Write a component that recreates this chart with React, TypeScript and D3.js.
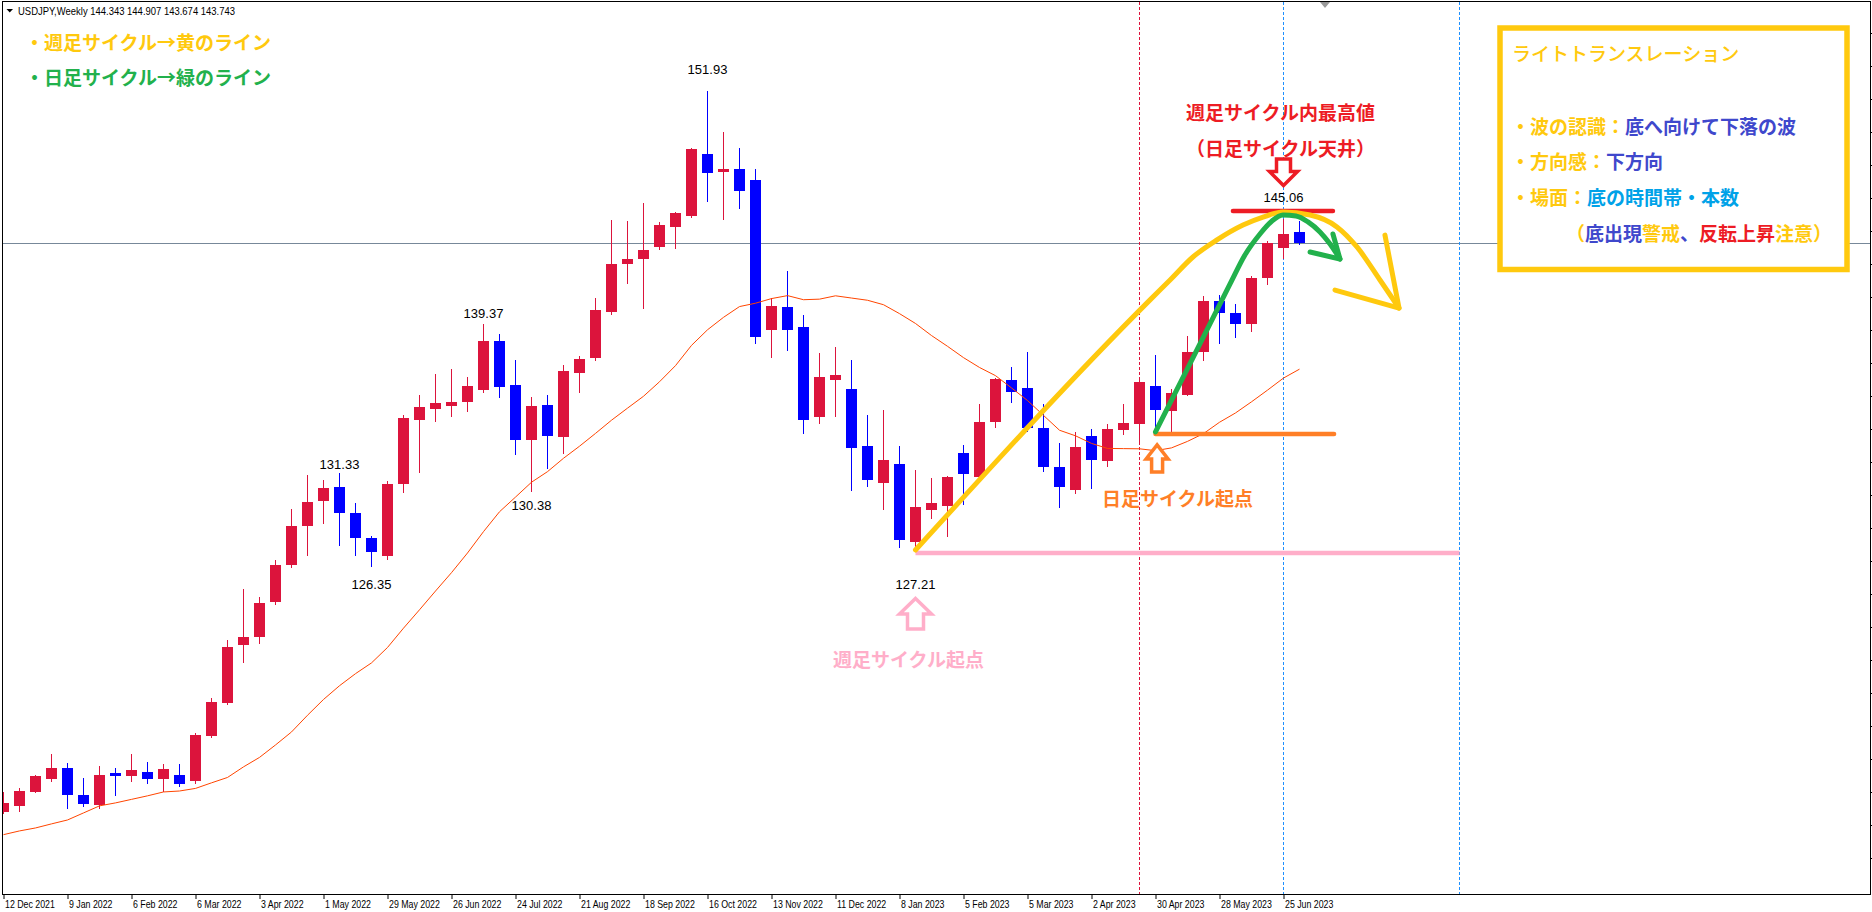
import React from "react";
import * as d3 from "d3";

const W = 1872;
const H = 912;

// Weekly USDJPY candles, bar 0 = week of 12 Dec 2021, bar 81 = week of 2 Jul 2023
const opens = [
  113.10, 113.44, 114.20, 114.90, 115.47, 114.02, 113.50, 115.20, 115.04, 115.26,
  114.88, 115.10, 114.77, 117.20, 118.97, 122.10, 122.55, 124.40, 126.40, 128.50,
  129.85, 130.60, 129.20, 127.85, 126.89, 130.78, 134.21, 134.82, 134.98, 135.20,
  135.85, 138.47, 136.10, 133.15, 135.02, 133.31, 136.76, 137.55, 140.03, 142.60,
  142.90, 143.55, 144.62, 145.21, 148.54, 147.58, 147.75, 147.14, 139.08, 140.30,
  139.22, 134.39, 136.38, 135.88, 132.81, 130.84, 131.84, 127.66, 129.39, 129.60,
  132.43, 131.16, 134.12, 136.37, 135.94, 133.77, 131.68, 130.44, 133.35, 132.02,
  133.69, 134.00, 136.04, 134.71, 135.58, 137.89, 140.60, 139.95, 139.40, 141.84,
  143.45, 144.343,
];
const highs = [
  114.20, 114.40, 115.10, 116.22, 115.74, 114.93, 115.58, 115.47, 116.22, 115.80,
  115.69, 115.69, 117.36, 119.24, 122.37, 125.10, 124.68, 126.68, 129.40, 131.25,
  131.00, 131.33, 129.75, 127.95, 130.93, 134.48, 135.56, 136.69, 136.96, 136.53,
  139.37, 138.85, 137.44, 135.45, 135.56, 137.17, 137.66, 140.78, 144.98, 144.93,
  145.90, 144.88, 145.41, 148.88, 151.93, 149.72, 148.86, 147.74, 140.77, 142.25,
  139.87, 137.84, 138.14, 137.44, 134.48, 134.75, 132.81, 131.52, 131.09, 131.20,
  132.87, 135.08, 136.47, 137.07, 137.88, 135.08, 132.97, 133.57, 133.73, 134.00,
  135.08, 136.55, 137.71, 135.90, 138.75, 140.90, 140.93, 140.46, 141.95, 143.85,
  145.06, 144.907,
];
const lows = [
  113.02, 113.17, 114.18, 114.79, 113.34, 113.43, 113.30, 114.04, 114.79, 114.67,
  114.24, 114.50, 114.67, 117.14, 118.90, 121.20, 122.20, 124.30, 126.30, 126.95,
  128.65, 127.50, 126.95, 126.35, 126.74, 130.34, 131.41, 134.16, 134.43, 134.70,
  135.72, 135.47, 132.40, 130.38, 131.65, 132.45, 135.74, 137.44, 139.90, 141.57,
  140.26, 143.40, 143.49, 145.16, 146.01, 145.04, 145.65, 138.38, 137.62, 137.98,
  133.53, 134.07, 134.45, 130.46, 130.67, 129.42, 127.36, 127.21, 128.95, 127.98,
  129.69, 130.95, 133.85, 135.20, 133.60, 131.48, 129.54, 130.30, 130.54, 131.75,
  133.47, 132.92, 133.58, 133.64, 135.54, 137.44, 138.34, 138.70, 139.00, 141.55,
  142.92, 143.674,
];
const closes = [
  113.59, 114.24, 115.04, 115.47, 114.04, 113.55, 115.10, 115.06, 115.36, 114.88,
  115.42, 114.61, 117.25, 119.02, 121.99, 122.50, 124.35, 126.40, 128.50, 129.80,
  130.55, 129.20, 127.85, 127.10, 130.77, 134.34, 134.91, 135.13, 135.18, 136.04,
  138.47, 136.01, 133.15, 134.97, 133.37, 136.85, 137.50, 140.14, 142.60, 142.90,
  143.35, 144.71, 145.36, 148.79, 147.53, 147.75, 146.55, 138.70, 140.35, 139.08,
  134.23, 136.53, 136.64, 132.72, 130.99, 132.06, 127.77, 129.53, 129.75, 131.14,
  131.30, 134.11, 136.42, 135.74, 133.80, 131.70, 130.62, 132.76, 132.07, 133.73,
  134.05, 136.26, 134.77, 135.67, 137.88, 140.60, 139.95, 139.40, 141.84, 143.73,
  144.23, 143.743,
];
// 20-week moving average
const ma20 = [
  111.88, 112.08, 112.24, 112.46, 112.67, 113.05, 113.43, 113.59, 113.78, 113.97,
  114.18, 114.23, 114.37, 114.67, 114.96, 115.53, 116.04, 116.71, 117.41, 118.31,
  119.16, 119.90, 120.55, 121.13, 121.96, 123.00, 123.99, 125.00, 125.99, 127.05,
  128.20, 129.27, 130.06, 130.86, 131.43, 132.15, 132.80, 133.49, 134.20, 134.85,
  135.49, 136.27, 137.14, 138.23, 139.07, 139.74, 140.32, 140.50, 140.75, 140.91,
  140.69, 140.72, 140.90, 140.78, 140.66, 140.42, 139.94, 139.41, 138.76, 138.18,
  137.57, 137.04, 136.60, 135.94, 135.26, 134.46, 133.66, 133.36, 132.95, 132.68,
  132.67, 132.66, 132.56, 132.71, 133.06, 133.48, 134.09, 134.59, 135.19, 135.82,
  136.47, 136.95,
];

const tickBars = [0, 4, 8, 12, 16, 20, 24, 28, 32, 36, 40, 44, 48, 52, 56, 60, 64, 68, 72, 76, 80];
const tickLabels = [
  "12 Dec 2021", "9 Jan 2022", "6 Feb 2022", "6 Mar 2022", "3 Apr 2022", "1 May 2022",
  "29 May 2022", "26 Jun 2022", "24 Jul 2022", "21 Aug 2022", "18 Sep 2022", "16 Oct 2022",
  "13 Nov 2022", "11 Dec 2022", "8 Jan 2023", "5 Feb 2023", "5 Mar 2023", "2 Apr 2023",
  "30 Apr 2023", "28 May 2023", "25 Jun 2023",
];
const priceTicks = [
  155.05, 153.28, 151.5, 149.72, 147.95, 146.17, 144.39, 142.61, 140.84, 139.06, 137.28,
  135.51, 133.73, 131.95, 130.17, 128.4, 126.62, 124.84, 123.07, 121.29, 119.51, 117.74,
  115.96, 114.18, 112.41, 110.63,
];

// swing high / low labels
const swingBars = [21, 23, 30, 33, 44, 57, 80];
const swingValues = [131.33, 126.35, 139.37, 130.38, 151.93, 127.21, 145.06];
const swingIsHigh = [true, false, true, false, true, false, true];
const swingOffset = [-9, 19, -11, 14, -22, 34, -21];

const currentPrice = 143.743;
const header = "USDJPY,Weekly  144.343 144.907 143.674 143.743";
const dividerBars = [71, 80, 91];
const dividerColors = ["#DC143C", "#1E90FF", "#1E90FF"];

// hand-drawn annotation strokes, as [bar, price]
const yellowCurve: [number, number][] = [
  [57.0, 127.21], [71.66, 140.68], [72.91, 141.75], [74.34, 142.99], [75.84, 143.91],
  [77.47, 144.71], [78.72, 145.14], [79.97, 145.41], [81.66, 145.25], [83.34, 144.61],
  [84.59, 143.53], [86.03, 141.75], [87.22, 140.24],
];
const yellowHead: [number, number][] = [[86.34, 144.17], [87.22, 140.24], [83.22, 141.21]];
const greenCurve: [number, number][] = [
  [72.0, 133.57], [74.33, 137.55], [76.66, 141.54], [77.59, 143.1], [78.53, 144.23],
  [79.28, 144.93], [79.97, 145.25], [80.78, 145.2], [81.53, 144.88], [82.28, 144.34],
  [82.91, 143.69], [83.53, 142.88],
];
const greenHead: [number, number][] = [[81.66, 143.26], [83.53, 142.88], [83.09, 144.23]];

const CJK = "'Noto Sans CJK JP', 'Noto Sans CJK SC', sans-serif";
const SANS = "'Liberation Sans', Arial, sans-serif";

const YEL = "#FFC90E";
const GRN = "#22B14C";
const ORG = "#FF7F27";
const PNK = "#FFAEC9";
const RED = "#ED1C24";
const IND = "#3F48CC";
const TUR = "#00A2E8";

function hollowArrow(tx: number, ty: number, dir: number, headHalf: number, headH: number, shaftHalf: number, len: number) {
  const b = ty + dir * headH;
  const e = ty + dir * len;
  return `M${tx},${ty} L${tx + headHalf},${b} L${tx + shaftHalf},${b} L${tx + shaftHalf},${e} L${tx - shaftHalf},${e} L${tx - shaftHalf},${b} L${tx - headHalf},${b} Z`;
}

export default function App() {
  const x = d3.scaleLinear().domain([0, 81]).range([3.5, 3.5 + 16 * 81]);
  const y = d3.scaleLinear().domain([127.21, 151.93]).range([550, 91]);

  const maLine = d3
    .line<number>()
    .x((_, i) => x(i))
    .y((d) => y(d))(ma20) as string;

  const annLine = d3
    .line<[number, number]>()
    .x((d) => x(d[0]))
    .y((d) => y(d[1]))
    .curve(d3.curveMonotoneX);
  const straight = d3
    .line<[number, number]>()
    .x((d) => x(d[0]))
    .y((d) => y(d[1]));

  const priceY = Math.round(y(currentPrice)) + 0.5;

  const boxLines: { x: number; cy: number; parts: [string, string][] }[] = [
    { x: 1511, cy: 124.5, parts: [["・波の認識：", YEL], ["底へ向けて下落の波", IND]] },
    { x: 1511, cy: 160, parts: [["・方向感：", YEL], ["下方向", IND]] },
    { x: 1511, cy: 195.5, parts: [["・場面：", YEL], ["底の時間帯・本数", TUR]] },
    {
      x: 1566,
      cy: 231.5,
      parts: [["（", YEL], ["底出現", IND], ["警戒", YEL], ["、", IND], ["反転上昇", RED], ["注意", YEL], ["）", YEL]],
    },
  ];

  return (
    <div style={{ position: "fixed", left: 0, top: 0, width: W, height: H, background: "#fff" }}>
      <svg width={W} height={H} style={{ display: "block" }}>
        <defs>
          <clipPath id="plotClip">
            <rect x={3} y={2} width={1867} height={892} />
          </clipPath>
        </defs>
        <rect x={0} y={0} width={W} height={H} fill="#ffffff" />

        <g clipPath="url(#plotClip)">
          {/* current price line */}
          <line x1={0} x2={W} y1={priceY} y2={priceY} stroke="#778899" strokeWidth={1} />

          {/* period separators */}
          {dividerBars.map((b, i) => (
            <line
              key={"d" + i}
              x1={x(b)}
              x2={x(b)}
              y1={2}
              y2={894}
              stroke={dividerColors[i]}
              strokeWidth={1}
              strokeDasharray="3,2"
            />
          ))}

          {/* candles */}
          <g shapeRendering="crispEdges">
            {opens.map((o, i) => {
              const c = closes[i];
              const col = c >= o ? "#DC143C" : "#0000FF";
              const cx = x(i);
              const top = Math.round(y(Math.max(o, c)));
              const bot = Math.round(y(Math.min(o, c)));
              return (
                <g key={"c" + i}>
                  <line x1={cx} x2={cx} y1={Math.round(y(highs[i]))} y2={Math.round(y(lows[i])) + 1} stroke={col} strokeWidth={1} />
                  <rect x={cx - 5.5} y={top} width={11} height={Math.max(1, bot - top)} fill={col} />
                </g>
              );
            })}
          </g>

          {/* moving average */}
          <path d={maLine} fill="none" stroke="#FF4500" strokeWidth={1} />

          {/* swing labels */}
          {swingBars.map((b, i) => (
            <text
              key={"s" + i}
              x={x(b)}
              y={y(swingIsHigh[i] ? highs[b] : lows[b]) + swingOffset[i]}
              textAnchor="middle"
              dominantBaseline="central"
              fontFamily={SANS}
              fontSize={13}
              fill="#000"
            >
              {swingValues[i].toFixed(2)}
            </text>
          ))}

          {/* horizontal marker lines */}
          <line x1={x(57)} x2={x(91)} y1={y(127.21) + 3} y2={y(127.21) + 3} stroke={PNK} strokeWidth={4.5} />
          <line x1={x(72)} x2={x(83.16)} y1={y(133.46)} y2={y(133.46)} stroke={ORG} strokeWidth={4.5} strokeLinecap="round" />
          <line x1={x(76.84)} x2={x(83.09)} y1={y(145.47)} y2={y(145.47)} stroke={RED} strokeWidth={4.5} strokeLinecap="round" />

          {/* weekly cycle (yellow) */}
          <path d={annLine(yellowCurve) as string} fill="none" stroke={YEL} strokeWidth={5} strokeLinecap="round" strokeLinejoin="round" />
          <path d={straight(yellowHead) as string} fill="none" stroke={YEL} strokeWidth={5} strokeLinecap="round" strokeLinejoin="round" />

          {/* daily cycle (green) */}
          <path d={annLine(greenCurve) as string} fill="none" stroke={GRN} strokeWidth={5} strokeLinecap="round" strokeLinejoin="round" />
          <path d={straight(greenHead) as string} fill="none" stroke={GRN} strokeWidth={5} strokeLinecap="round" strokeLinejoin="round" />

          {/* arrows */}
          <path d={hollowArrow(x(57), y(127.21) + 48.5, 1, 16, 15.5, 8, 30.5)} fill="#fff" stroke={PNK} strokeWidth={3.5} strokeLinejoin="miter" />
          <path d={hollowArrow(x(72.1), y(133.46) + 11, 1, 11, 14, 5.5, 27)} fill="#fff" stroke={ORG} strokeWidth={3.5} strokeLinejoin="miter" />
          <path d={hollowArrow(x(80), y(145.06) - 33, -1, 14, 14, 7, 26.5)} fill="#fff" stroke={RED} strokeWidth={3.5} strokeLinejoin="miter" />

          {/* annotation texts */}
          <text x={833} y={658} fontFamily={CJK} fontWeight={700} fontSize={19} fill={PNK} dominantBaseline="central">
            週足サイクル起点
          </text>
          <text x={1102} y={497} fontFamily={CJK} fontWeight={700} fontSize={19} fill={ORG} dominantBaseline="central">
            日足サイクル起点
          </text>
          <text x={1186} y={111} fontFamily={CJK} fontWeight={700} fontSize={19} fill={RED} dominantBaseline="central">
            週足サイクル内最高値
          </text>
          <text x={1186} y={147} fontFamily={CJK} fontWeight={700} fontSize={19} fill={RED} dominantBaseline="central">
            （日足サイクル天井）
          </text>

          <text x={25} y={41} fontFamily={CJK} fontWeight={700} fontSize={19} fill={YEL} dominantBaseline="central">
            ・週足サイクル→黄のライン
          </text>
          <text x={25} y={76} fontFamily={CJK} fontWeight={700} fontSize={19} fill={GRN} dominantBaseline="central">
            ・日足サイクル→緑のライン
          </text>

          {/* explanation box */}
          <rect x={1500} y={28} width={347} height={241.5} fill="#fff" stroke={YEL} strokeWidth={5.5} />
          <text x={1512} y={52} fontFamily={CJK} fontWeight={500} fontSize={19} fill={YEL} dominantBaseline="central">
            ライトトランスレーション
          </text>
          {boxLines.map((ln, i) => (
            <text key={"b" + i} x={ln.x} y={ln.cy} fontFamily={CJK} fontWeight={700} fontSize={19} dominantBaseline="central">
              {ln.parts.map((p, j) => (
                <tspan key={j} fill={p[1]}>
                  {p[0]}
                </tspan>
              ))}
            </text>
          ))}

          {/* shift marker */}
          <path d="M1320,2 L1330,2 L1325,8 Z" fill="#9a9a9a" />
        </g>

        {/* frame */}
        <rect x={2.5} y={1.5} width={1868} height={893} fill="none" stroke="#000" strokeWidth={1} shapeRendering="crispEdges" />

        {/* price axis ticks */}
        {priceTicks.map((p, i) => (
          <line key={"p" + i} x1={1870.5} x2={1874} y1={Math.round(y(p)) + 0.5} y2={Math.round(y(p)) + 0.5} stroke="#000" strokeWidth={1} />
        ))}

        {/* time axis */}
        {tickBars.map((b, i) => (
          <g key={"t" + i}>
            <line x1={x(b) + 0.5} x2={x(b) + 0.5} y1={894.5} y2={899} stroke="#000" strokeWidth={1} />
            <text
              transform={`translate(${x(b) + 1.5},908) scale(0.8,1)`}
              fontFamily={SANS}
              fontSize={11}
              fill="#000"
            >
              {tickLabels[i]}
            </text>
          </g>
        ))}

        {/* header */}
        <path d="M6.5,9 L13,9 L9.75,12.5 Z" fill="#000" />
        <text x={18} y={15} fontFamily={SANS} fontSize={11} fill="#000" textLength={217} lengthAdjust="spacingAndGlyphs">
          {header}
        </text>
      </svg>
    </div>
  );
}
